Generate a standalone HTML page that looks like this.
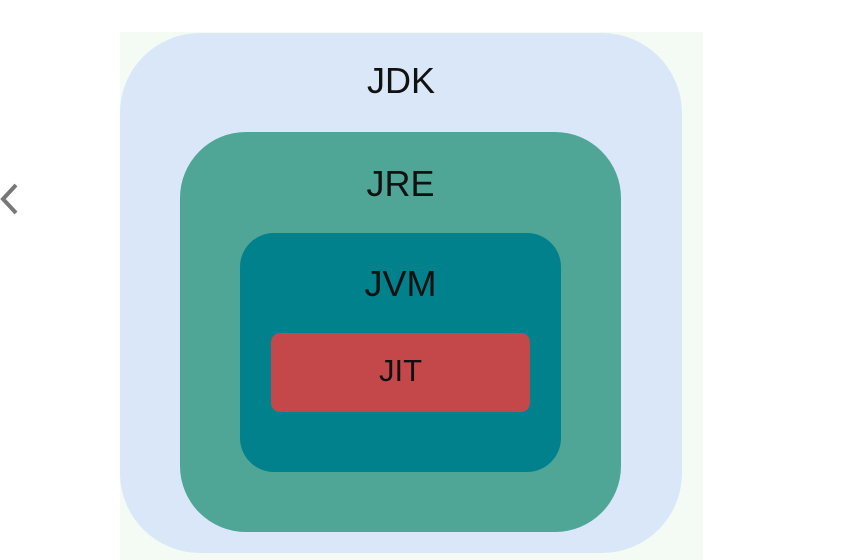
<!DOCTYPE html>
<html><head><style>
body{margin:0;width:849px;height:560px;background:#fff;position:relative;overflow:hidden;font-family:"Liberation Sans",sans-serif}
div{position:absolute;box-sizing:border-box}
.t{left:0;right:0;text-align:center;color:#111}
</style></head><body>
<div style="left:120px;top:32px;width:583px;height:528px;background:#f4fbf4"></div>
<div style="left:120px;top:33px;width:562px;height:520px;background:#d9e7f9;border-radius:80px"></div>
<div class="t" style="left:120px;width:562px;top:61px;font-size:36px;line-height:40px">JDK</div>
<div style="left:180px;top:132px;width:441px;height:400px;background:#4fa596;border-radius:66px"></div>
<div class="t" style="left:180px;width:441px;top:164px;font-size:36px;line-height:40px">JRE</div>
<div style="left:240px;top:233px;width:321px;height:239px;background:#01818c;border-radius:34px"></div>
<div class="t" style="left:240px;width:321px;top:264px;font-size:36px;line-height:40px">JVM</div>
<div style="left:271px;top:333px;width:259px;height:79px;background:#c44849;border-radius:9px"></div>
<div class="t" style="left:271px;width:259px;top:354px;font-size:31px;line-height:34px">JIT</div>
<svg style="position:absolute;left:0;top:180px" width="24" height="40"><polyline points="16,5 3,19 16,33" fill="none" stroke="#777" stroke-width="4"/></svg>
</body></html>
